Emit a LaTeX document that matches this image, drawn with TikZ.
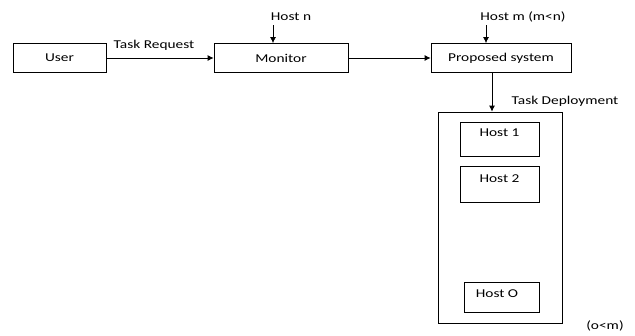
\documentclass[tikz,border=0pt]{standalone}
\usepackage{fontspec}
\setmainfont{Carlito}[FakeStretch=1.28]
\usetikzlibrary{arrows.meta}
\begin{document}
\begin{tikzpicture}[x=1pt,y=-1pt,
  box/.style={draw,line width=0.8pt,inner sep=0pt,font=\fontsize{12}{14}\selectfont},
  lbl/.style={inner sep=0pt,font=\fontsize{12}{14}\selectfont},
  arr/.style={line width=0.8pt,-{Latex[length=6pt,width=6pt]}}]
\useasboundingbox (0,0) rectangle (635,335);
\node[box,minimum width=93pt,minimum height=29pt] (user) at (59.5,58) {User};
\node[box,minimum width=134pt,minimum height=29pt] (mon) at (281,58) {Monitor};
\node[box,minimum width=140pt,minimum height=29pt] (prop) at (501,58) {Proposed system};
\node[box,minimum width=124pt,minimum height=211pt] (big) at (500,217.5) {};
\node[box,minimum width=79pt,minimum height=34pt] (h1) at (499.5,139) {};
\node[lbl] (h1t) at (499.5,133) {Host 1};
\node[box,minimum width=79pt,minimum height=36pt] (h2) at (499.5,184) {};
\node[lbl] (h2t) at (499.5,179) {Host 2};
\node[box,minimum width=75pt,minimum height=30pt] (ho) at (501.5,297) {};
\node[lbl] (hot) at (497,294) {Host O};
\node[lbl] (tr) at (154,45) {Task Request};
\node[lbl] (hn) at (291,17) {Host n};
\node[lbl] (hm) at (523,17) {Host m (m<n)};
\node[lbl] (td) at (565,101) {Task Deployment};
\node[lbl] (om) at (605,326) {(o<m)};
\coordinate (hna) at (273,25);
\coordinate (hma) at (486,25);
\coordinate (tda) at (492,72.5);
\draw[arr] (user.east) -- (mon.west);
\draw[arr] (mon.east) -- (prop.west);
\draw[arr] (hna) -- (hna |- mon.north);
\draw[arr] (hma) -- (hma |- prop.north);
\draw[arr] (tda) -- (tda |- big.north);
\end{tikzpicture}
\end{document}
